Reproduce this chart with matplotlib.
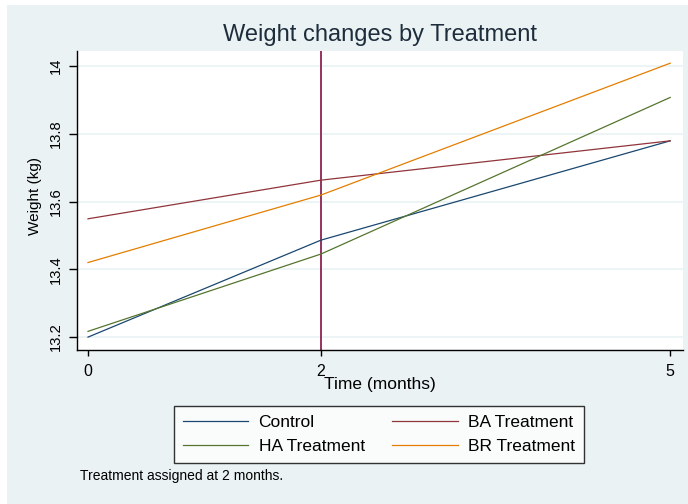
import matplotlib
matplotlib.use("Agg")
import matplotlib.pyplot as plt
from matplotlib.patches import Rectangle

# data
months = [0, 2, 5]
control = [13.20, 13.486, 13.779]
ba_treat = [13.549, 13.663, 13.779]
ha_treat = [13.217, 13.445, 13.907]
br_treat = [13.42, 13.619, 14.008]
yticks = [13.2, 13.4, 13.6, 13.8, 14]
ytick_labels = ['13.2', '13.4', '13.6', '13.8', '14']
xticks = [0, 2, 5]
assign_month = 2

plt.rcParams['font.family'] = ['Liberation Sans', 'DejaVu Sans']

W, H = 688, 504
bg = '#eaf2f3'
fig = plt.figure(figsize=(6.88, 5.04), dpi=100, facecolor='white')
fig.patches.append(Rectangle((7 / W, 0), 1, 1 - 5 / H, transform=fig.transFigure,
                             facecolor=bg, edgecolor='none', zorder=-10))

ax = fig.add_axes([77 / W, 1 - 350 / H, (683 - 77) / W, (350 - 51) / H])
ax.set_facecolor('white')

l1, = ax.plot(months, control, color='#1a476f', lw=0.9, label='Control')
l2, = ax.plot(months, ba_treat, color='#90353b', lw=0.9, label='BA Treatment')
l3, = ax.plot(months, ha_treat, color='#55752f', lw=0.9, label='HA Treatment')
l4, = ax.plot(months, br_treat, color='#e37e00', lw=0.9, label='BR Treatment')
ax.axvline(assign_month, color='#8c2352', lw=1.3, zorder=1)

ax.set_ylim(13.162, 14.044)
ax.set_xlim(-0.0945, 5.11)
ax.set_yticks(yticks)
ax.set_yticklabels(ytick_labels, rotation=90, va='center', fontsize=10.6)
ax.set_xticks(xticks)
ax.grid(axis='y', color='#eaf2f3', lw=1.2)
ax.set_axisbelow(True)

for s in ['top', 'right']:
    ax.spines[s].set_visible(False)
for s in ['left', 'bottom']:
    ax.spines[s].set_linewidth(1.0)
    ax.spines[s].set_color('black')
ax.tick_params(axis='y', length=6, width=1, colors='black', pad=4)
ax.tick_params(axis='x', length=4, width=1, labelsize=11.5, colors='black', pad=6)

fig.text(380 / W, 1 - 35 / H, 'Weight changes by Treatment', fontsize=17,
         color='#1e2d3c', ha='center', va='center')
fig.text(380 / W, 1 - 384 / H, 'Time (months)', fontsize=12.5, ha='center', va='center')
fig.text(35 / W, 1 - 196 / H, 'Weight (kg)', fontsize=11, ha='center',
         va='center', rotation=90)

leg = fig.legend(handles=[l1, l3, l2, l4], ncol=2, loc='center',
                 bbox_to_anchor=(379 / W, 1 - 434.5 / H), fontsize=12.5,
                 frameon=True, fancybox=False, edgecolor='black', handlelength=3.75,
                 columnspacing=1.6, handletextpad=0.6, borderpad=0.5, labelspacing=0.55,
                 borderaxespad=0)
leg.get_frame().set_linewidth(1.0)

fig.text(80 / W, 1 - 476 / H, 'Treatment assigned at 2 months.', fontsize=10, va='center')

fig.savefig('out.png', dpi=100, facecolor=fig.get_facecolor())
